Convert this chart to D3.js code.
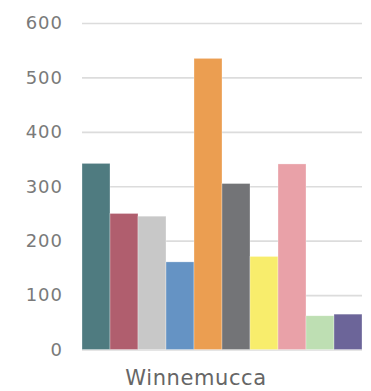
<!DOCTYPE html>
<html>
<head>
<meta charset="utf-8">
<script src="https://cdn.jsdelivr.net/npm/d3@7"></script>
<style>
  html, body { margin: 0; padding: 0; background: #fff; }
  svg { display: block; }
</style>
</head>
<body>
<svg id="chart" width="371" height="391"></svg>
<script>
// Single category, ten series shown side by side
const category = "Winnemucca";
const seriesNames = ["S1", "S2", "S3", "S4", "S5", "S6", "S7", "S8", "S9", "S10"];
const seriesValues = [342, 250, 245, 161, 535, 305, 171, 341, 62, 65];
const seriesColors = ["#4f7b80", "#b05e6e", "#c8c8c8", "#6593c4", "#eb9e51",
                      "#737477", "#f8ed6c", "#e9a1a8", "#bedfb3", "#6c6599"];
const yTicks = [0, 100, 200, 300, 400, 500, 600];

const margin = { left: 82, right: 9, top: 23, bottom: 41.5 };
const width = 371, height = 391;
const svg = d3.select("#chart");

const y = d3.scaleLinear()
  .domain([0, 600])
  .range([height - margin.bottom, margin.top]);

const x0 = d3.scaleBand()
  .domain([category])
  .range([margin.left, width - margin.right])
  .padding(0);

const x1 = d3.scaleBand()
  .domain(seriesNames)
  .range([0, x0.bandwidth()])
  .padding(0);

const font = "'DejaVu Sans', 'Noto Sans', sans-serif";

// Horizontal gridlines and value labels
const yAxis = d3.axisLeft(y)
  .tickValues(yTicks)
  .tickSize(-(width - margin.left - margin.right))
  .tickPadding(19)
  .tickFormat(d3.format("d"));

const gy = svg.append("g")
  .attr("transform", `translate(${margin.left},0)`)
  .call(yAxis);
gy.select(".domain").remove();
gy.selectAll(".tick line")
  .attr("stroke", "#dcdcdc")
  .attr("stroke-width", 1.6);
gy.selectAll(".tick text")
  .attr("fill", "#7a7a7a")
  .style("font-family", font)
  .style("font-size", "18px")
  .style("letter-spacing", "1px");

// Bars
svg.append("g")
  .attr("transform", `translate(${x0(category)},0)`)
  .selectAll("rect")
  .data(seriesValues)
  .join("rect")
  .attr("x", (d, i) => x1(seriesNames[i]))
  .attr("width", x1.bandwidth())
  .attr("y", d => y(d))
  .attr("height", d => y(0) - y(d))
  .attr("fill", (d, i) => seriesColors[i])
  .attr("stroke", "#fff")
  .attr("stroke-opacity", 0.5)
  .attr("stroke-width", 0.6);

// Category label below the bars
const xAxis = d3.axisBottom(x0).tickSize(0).tickPadding(0);
const gx = svg.append("g")
  .attr("transform", `translate(-26,${y(0)})`)
  .call(xAxis);
gx.select(".domain").remove();
gx.selectAll(".tick text")
  .attr("dy", null)
  .attr("y", 35)
  .attr("fill", "#666")
  .style("font-family", font)
  .style("font-size", "21px")
  .style("letter-spacing", "0.6px");
</script>
</body>
</html>
